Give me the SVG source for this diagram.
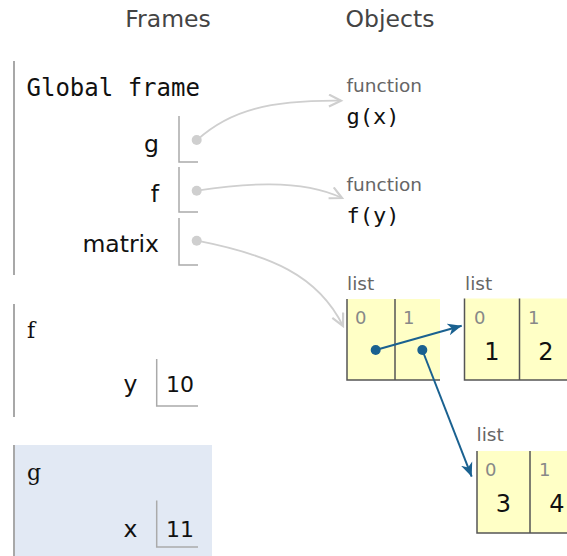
<svg xmlns="http://www.w3.org/2000/svg" width="567" height="556" viewBox="0 0 567 556">
<style>
.title{font-family:"DejaVu Sans",Verdana,sans-serif;font-size:23.5px;fill:#444}
.mono{font-family:"DejaVu Sans Mono","Liberation Mono",monospace;fill:#111}
.fname{font-family:"DejaVu Serif","Liberation Serif",serif;font-size:22px;fill:#111}
.var{font-family:"DejaVu Sans",Verdana,sans-serif;font-size:23.5px;fill:#111}
.val{font-family:"DejaVu Sans",Verdana,sans-serif;font-size:22px;fill:#111}
.type{font-family:"DejaVu Sans",Verdana,sans-serif;font-size:18.5px;fill:#666}
.idx{font-family:"DejaVu Sans",Verdana,sans-serif;font-size:18px;fill:#888}
.lval{font-family:"DejaVu Sans",Verdana,sans-serif;font-size:24px;fill:#111}
.bar{stroke:#a8a8a8;stroke-width:2}
.slot{fill:none;stroke:#aaa;stroke-width:1.5}
.cell{fill:#ffffc6}
.cb{stroke:#555;stroke-width:1.5;fill:none}
.gptr{fill:none;stroke:#cfcfcf;stroke-width:1.8}
.bptr{fill:none;stroke:#1a6190;stroke-width:2}
</style>
<defs>
<marker id="ga" markerUnits="userSpaceOnUse" markerWidth="16" markerHeight="16" refX="13" refY="7" orient="auto">
<path d="M1,1 L13,7 L1,13" fill="none" stroke="#cfcfcf" stroke-width="2.2"/>
</marker>
<marker id="ba" markerUnits="userSpaceOnUse" markerWidth="16" markerHeight="16" refX="14" refY="7" orient="auto">
<path d="M0,1 L14,7 L0,13 L4,7 Z" fill="#1a6190"/>
</marker>
</defs>

<text class="title" x="168" y="27" text-anchor="middle">Frames</text>
<text class="title" x="390" y="27" text-anchor="middle">Objects</text>

<g id="global-frame">
<line class="bar" x1="14" y1="61" x2="14" y2="275"/>
<text class="mono" x="26.5" y="96" font-size="24">Global frame</text>
<text class="var" x="159" y="151.5" text-anchor="end">g</text>
<polyline class="slot" points="179,116 179,162 198,162"/>
<circle cx="196.7" cy="140" r="5" fill="#cfcfcf"/>
<text class="var" x="159" y="201.5" text-anchor="end">f</text>
<polyline class="slot" points="179,167 179,212 198,212"/>
<circle cx="196.7" cy="190.7" r="5" fill="#cfcfcf"/>
<text class="var" x="159" y="251.5" text-anchor="end">matrix</text>
<polyline class="slot" points="179,218 179,265 198,265"/>
<circle cx="196.7" cy="240.7" r="5" fill="#cfcfcf"/>
</g>

<g id="frame-f">
<line class="bar" x1="14" y1="304" x2="14" y2="417"/>
<text class="fname" x="27" y="338">f</text>
<text class="var" x="137.5" y="392" text-anchor="end">y</text>
<polyline class="slot" points="156.7,359 156.7,406 198,406"/>
<text class="val" x="166" y="392">10</text>
</g>

<g id="frame-g">
<rect x="13" y="445" width="199" height="111" fill="#e2e9f4"/>
<line class="bar" x1="14" y1="445" x2="14" y2="556"/>
<text class="fname" x="27" y="480">g</text>
<text class="var" x="137.5" y="537" text-anchor="end">x</text>
<polyline class="slot" points="156.7,500.5 156.7,547 198,547"/>
<text class="val" x="166" y="537">11</text>
</g>

<g id="func-g">
<text class="type" x="346.5" y="92">function</text>
<text class="mono" x="346.5" y="124" font-size="22">g(x)</text>
</g>

<g id="func-f">
<text class="type" x="346.5" y="191">function</text>
<text class="mono" x="346.5" y="223" font-size="22">f(y)</text>
</g>

<g id="list-matrix">
<text class="type" x="347" y="290">list</text>
<rect class="cell" x="347" y="299" width="93" height="81"/>
<path class="cb" d="M347,299 V380 H440 M395,299 V380"/>
<text class="idx" x="355" y="324">0</text>
<text class="idx" x="403" y="324">1</text>
</g>

<g id="list-a">
<text class="type" x="465" y="290">list</text>
<rect class="cell" x="464.5" y="298.5" width="103" height="81.5"/>
<path class="cb" d="M464.5,298.5 V380 H567 M519.5,298.5 V380"/>
<text class="idx" x="474" y="324">0</text>
<text class="idx" x="528" y="324">1</text>
<text class="lval" x="492" y="360" text-anchor="middle">1</text>
<text class="lval" x="546" y="360" text-anchor="middle">2</text>
</g>

<g id="list-b">
<text class="type" x="476.5" y="441">list</text>
<rect class="cell" x="477" y="451" width="90" height="82"/>
<path class="cb" d="M477,451 V533 H567 M530,451 V533"/>
<text class="idx" x="485" y="476">0</text>
<text class="idx" x="539" y="476">1</text>
<text class="lval" x="503.5" y="512" text-anchor="middle">3</text>
<text class="lval" x="557" y="512" text-anchor="middle">4</text>
</g>

<g id="connectors">
<path class="gptr" d="M197,140 C230,110 270,100 341,100.7" marker-end="url(#ga)"/>
<path class="gptr" d="M197,190.7 C240,184 300,178 342,198" marker-end="url(#ga)"/>
<path class="gptr" d="M197,240.7 C270,255 318,275 343,326" marker-end="url(#ga)"/>
<circle cx="375.7" cy="350" r="5" fill="#1a6190"/>
<circle cx="422.3" cy="350" r="5" fill="#1a6190"/>
<path class="bptr" d="M375.7,350 L461.7,325.7" marker-end="url(#ba)"/>
<path class="bptr" d="M422.3,350 L471.7,476.7" marker-end="url(#ba)"/>
</g>
</svg>
